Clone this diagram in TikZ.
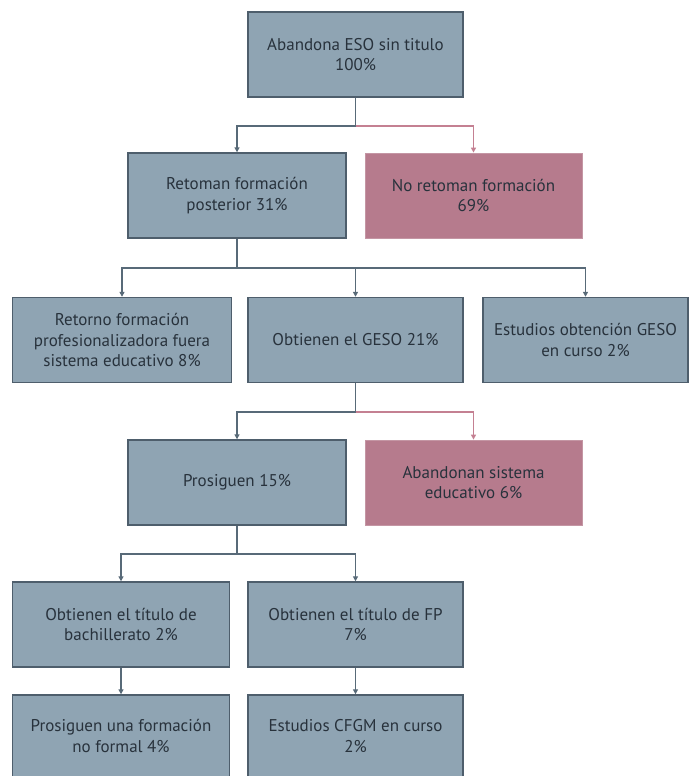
\documentclass[tikz,border=0pt]{standalone}
\usepackage{fontspec}
\setmainfont{PT Sans}
\usetikzlibrary{arrows.meta}

\definecolor{cajaAzul}{RGB}{143,164,179}
\definecolor{bordeAzul}{RGB}{78,94,108}
\definecolor{cajaRosa}{RGB}{182,123,141}
\definecolor{bordeRosa}{RGB}{196,150,164}
\definecolor{lineaAzul}{RGB}{88,106,120}
\definecolor{lineaRosa}{RGB}{196,128,146}
\definecolor{texto}{RGB}{40,50,60}

\begin{document}
\begin{tikzpicture}[
    x=1pt, y=-1pt,
    bloque/.style={
        rectangle,
        draw=bordeAzul,
        fill=cajaAzul,
        line width=1.4pt,
        minimum height=85pt,
        align=center,
        text=texto,
        font=\fontsize{17}{20.5}\selectfont
    },
    bloqueR/.style={
        bloque,
        draw=bordeRosa,
        fill=cajaRosa,
        line width=0.8pt
    },
    flecha/.style={
        draw=lineaAzul,
        line width=1.4pt,
        -{Triangle[length=5pt,width=5pt]}
    },
    flechaR/.style={
        flecha,
        draw=lineaRosa
    }
]

\useasboundingbox (0,0) rectangle (689,776);

% cajas
\node[bloque, minimum width=215pt] (inicio) at (355.5,54.5) {Abandona ESO sin titulo\\100\%};

\node[bloque, minimum width=218pt] (retoman) at (237,195.5) {Retoman formación\\posterior 31\%};
\node[bloqueR, minimum width=217pt] (noretoman) at (473.5,195.5) {No retoman formación\\69\%};

\node[bloque, minimum width=219pt] (retorno) at (122,340) {Retorno formación\\profesionalizadora fuera\\sistema educativo 8\%};
\node[bloque, minimum width=215pt] (geso) at (355.5,340) {Obtienen el GESO 21\%};
\node[bloque, minimum width=205pt] (encurso) at (585.5,340) {Estudios obtención GESO\\en curso 2\%};

\node[bloque, minimum width=218pt] (prosiguen) at (237,482.5) {Prosiguen 15\%};
\node[bloqueR, minimum width=217pt] (abandonan) at (473.5,482.5) {Abandonan sistema\\educativo 6\%};

\node[bloque, minimum width=217pt] (bach) at (121,624.5) {Obtienen el título de\\bachillerato 2\%};
\node[bloque, minimum width=215pt] (fp) at (355.5,624.5) {Obtienen el título de FP\\7\%};

\node[bloque, minimum width=217pt, minimum height=82pt] (noformal) at (121,736) {Prosiguen una formación\\no formal 4\%};
\node[bloque, minimum width=215pt, minimum height=82pt] (cfgm) at (355.5,736) {Estudios CFGM en curso\\2\%};

% puntos de unión
\coordinate (u1) at (355.5,126);
\coordinate (u2) at (237,268);
\coordinate (u3) at (355.5,412);
\coordinate (u4) at (237,554);

% conectores
\draw[flecha] (inicio.south) -- (u1) -| (retoman.north);
\draw[flechaR] (u1) -| (noretoman.north);

\draw[flecha] (retoman.south) -- (u2) -| (retorno.north);
\draw[flecha] (u2) -| (geso.north);
\draw[flecha] (u2) -| (encurso.north);

\draw[flecha] (geso.south) -- (u3) -| (prosiguen.north);
\draw[flechaR] (u3) -| (abandonan.north);

\draw[flecha] (prosiguen.south) -- (u4) -| (bach.north);
\draw[flecha] (u4) -| (fp.north);

\draw[flecha] (bach) -- (noformal);
\draw[flecha] (fp) -- (cfgm);

\end{tikzpicture}
\end{document}
